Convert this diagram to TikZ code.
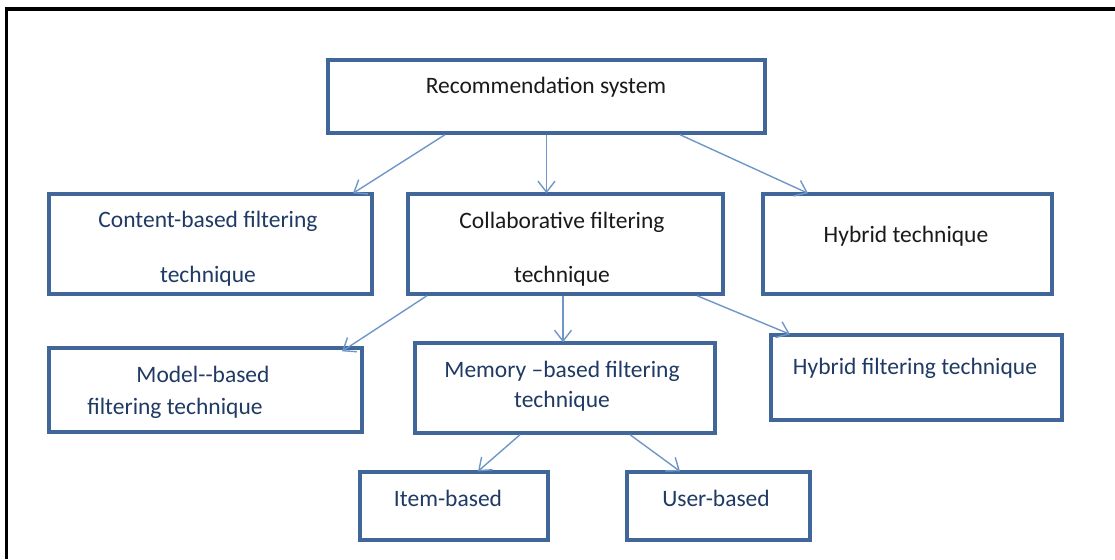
\documentclass[tikz,border=0pt]{standalone}
\usepackage{fontspec}
\setmainfont{Carlito}
\usetikzlibrary{arrows.meta}
\definecolor{boxline}{HTML}{41669A}
\definecolor{arrline}{HTML}{6F96C8}
\definecolor{navy}{HTML}{1F3A64}
\definecolor{ink}{HTML}{1A1A1A}
\begin{document}
\begin{tikzpicture}[x=1pt,y=-1pt,
  box/.style={draw=boxline,line width=3.4pt,fill=white,inner sep=0pt},
  arr/.style={draw=arrline,line width=1.4pt,-{Straight Barb[length=11pt,width=17pt,line width=1.4pt]}},
  lbl/.style={anchor=base,inner sep=0pt,font=\fontsize{23.5}{28}\selectfont},
  lblk/.style={lbl,text=ink},
  lbln/.style={lbl,text=navy}]
\useasboundingbox (0,0) rectangle (1115,559);
% outer frame (only top and left edges visible)
\draw[line width=3.4pt] (6.7,559) -- (6.7,9) -- (1115,9);
% boxes
\node[box,minimum width=437pt,minimum height=73pt] (rec) at (546.5,96.5) {};
\node[box,minimum width=323pt,minimum height=100pt] (cont) at (210.5,244) {};
\node[box,minimum width=315pt,minimum height=100pt] (coll) at (565.5,244) {};
\node[box,minimum width=289pt,minimum height=100pt] (hyb) at (907.5,244) {};
\node[box,minimum width=313pt,minimum height=84pt] (model) at (205.5,390) {};
\node[box,minimum width=300pt,minimum height=90pt] (mem) at (565,388) {};
\node[box,minimum width=291pt,minimum height=85pt] (hf) at (916.5,377.5) {};
\node[box,minimum width=188pt,minimum height=68pt] (item) at (454,506) {};
\node[box,minimum width=183pt,minimum height=68pt] (user) at (718.5,506) {};
% texts
\node[lblk] (trec) at (546,93.5) {Recommendation system};
\node[lbln] (tcont1) at (208,227.5) {Content-based filtering};
\node[lbln] (tcont2) at (208,282.5) {technique};
\node[lblk] (tcoll1) at (562,228.5) {Collaborative filtering};
\node[lblk] (tcoll2) at (562,282.5) {technique};
\node[lblk] (thyb) at (906,242.5) {Hybrid technique};
\node[lbln] (tmod1) at (203,382.5) {Model-{}-based};
\node[lbln] (tmod2) at (175,414) {filtering technique};
\node[lbln] (tmem1) at (562,377.5) {Memory –based filtering};
\node[lbln] (tmem2) at (562,407.5) {technique};
\node[lbln] (thf) at (915,374.5) {Hybrid filtering technique};
\node[lbln] (titem) at (448,506.5) {Item-based};
\node[lbln] (tuser) at (716,506.5) {User-based};
% connectors
\draw[arr] ([xshift=-101.5pt]rec.south) -- ([xshift=142.5pt,yshift=-1pt]cont.north);
\draw[arr] ([xshift=0pt]rec.south) -- ([xshift=-19pt,yshift=-1pt]coll.north);
\draw[arr] ([xshift=133.5pt]rec.south) -- ([xshift=-99.5pt,yshift=-1pt]hyb.north);
\draw[arr] ([xshift=-138.5pt]coll.south) -- ([xshift=136.5pt,yshift=-5pt]model.north);
\draw[arr] ([xshift=-2.5pt]coll.south) -- ([xshift=-2pt,yshift=-1pt]mem.north);
\draw[arr] ([xshift=131.5pt]coll.south) -- ([xshift=-126.5pt,yshift=-1pt]hf.north);
\draw[arr] ([xshift=-45pt]mem.south) -- ([xshift=24pt,yshift=-1pt]item.north);
\draw[arr] ([xshift=65pt]mem.south) -- ([xshift=-38.5pt,yshift=-1pt]user.north);
\end{tikzpicture}
\end{document}
